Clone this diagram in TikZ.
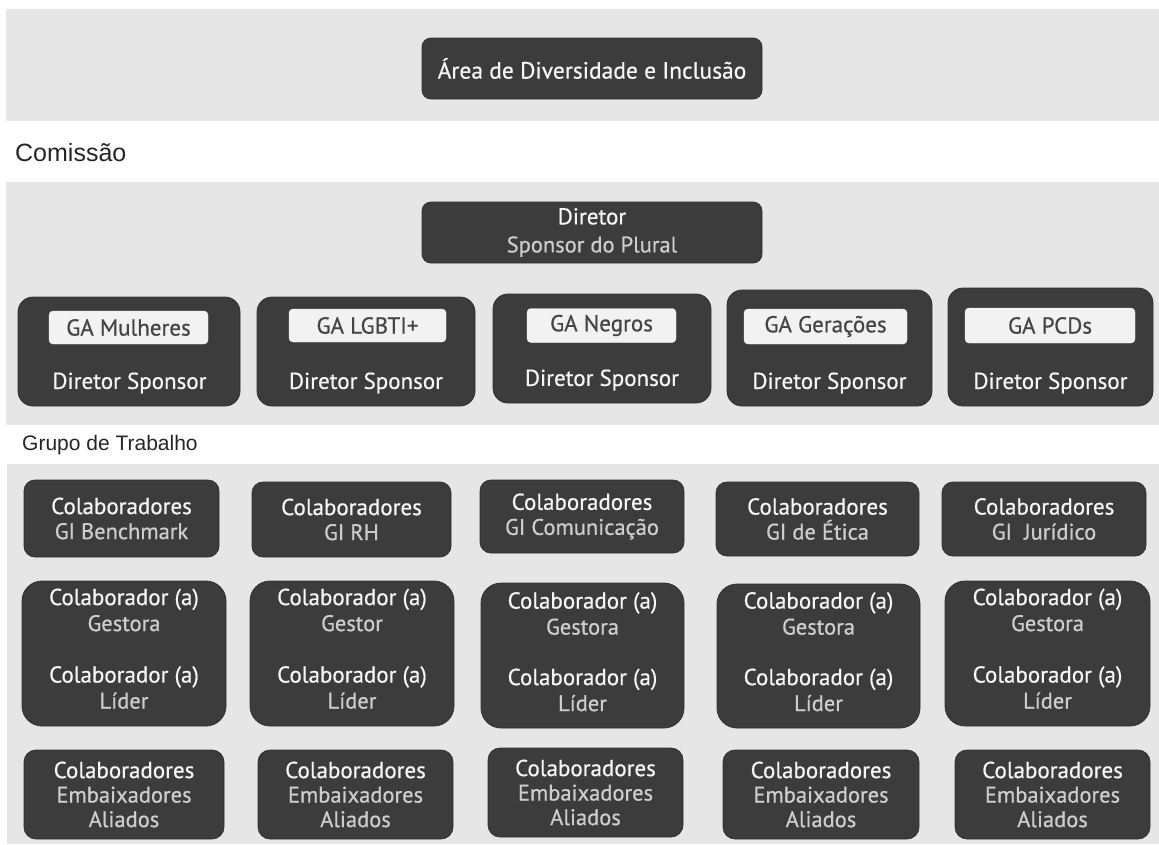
\documentclass[tikz,border=0pt]{standalone}
\usepackage{fontspec}
\newfontfamily\pts[FakeBold=0.6]{PT Sans}
\newfontfamily\lib{Liberation Sans}
\definecolor{bandc}{HTML}{E6E6E6}
\definecolor{boxc}{HTML}{3C3C3C}
\definecolor{boxe}{HTML}{333333}
\definecolor{mainc}{HTML}{F5F5F5}
\definecolor{subc}{HTML}{CDCDCD}
\definecolor{labc}{HTML}{F2F2F2}
\definecolor{labt}{HTML}{454545}
\newcommand{\subl}[1]{{\color{subc}\fontsize{22.5}{25}\selectfont #1}}
\begin{document}
\begin{tikzpicture}[x=1pt,y=-1pt,
  dbox/.style={fill=boxc, draw=boxe, line width=0.8pt, inner sep=0pt, text=mainc, align=center, font=\pts\fontsize{23}{25}\selectfont},
  gabox/.style={dbox, rounded corners=15pt},
  r1box/.style={dbox, rounded corners=11pt},
  r2box/.style={dbox, rounded corners=20pt},
  r3box/.style={dbox, rounded corners=12pt, font=\pts\fontsize{23}{24.5}\selectfont},
  topbox/.style={dbox, rounded corners=9pt},
  galab/.style={fill=labc, draw=labc, rounded corners=4pt, inner sep=0pt, text=labt, font=\pts\fontsize{23}{26}\selectfont},
  txt/.style={inner sep=0pt, text=mainc, align=center, font=\pts\fontsize{23}{26}\selectfont},
  sect/.style={inner sep=0pt, anchor=west, text=black!85}
]
\useasboundingbox (0,0) rectangle (1159,844);
\fill[white] (0,0) rectangle (1159,844);
% bands
\fill[bandc] (6,9) rectangle (1159,121);
\fill[bandc] (6,182) rectangle (1159,425);
\fill[bandc] (7,464) rectangle (1159,844);

% section labels
\node[sect, font=\lib\fontsize{25}{28}\selectfont] (comissao) at (15,153) {Comissão};
\node[sect, font=\lib\fontsize{21}{25}\selectfont] (grupo) at (22,445) {Grupo de Trabalho};

% top boxes
\node[topbox, minimum width=340, minimum height=61, font=\pts\fontsize{23.5}{26}\selectfont] (area) at (592,68.5) {Área de Diversidade e Inclusão};
\node[topbox, minimum width=340, minimum height=61, font=\pts\fontsize{23}{28}\selectfont] (diretor) at (592,232.5) {Diretor\\\subl{Sponsor do Plural}};

% GA boxes
\node[gabox, minimum width=222, minimum height=109] (ga1) at (129,351.5) {};
\node[galab, minimum width=159, minimum height=33] (ga1l) at (128.5,327.5) {GA Mulheres};
\node[txt] (ga1t) at (129.5,383) {Diretor Sponsor};

\node[gabox, minimum width=218, minimum height=109] (ga2) at (366,351.5) {};
\node[galab, minimum width=157, minimum height=33] (ga2l) at (367.5,325.5) {GA LGBTI+};
\node[txt] (ga2t) at (366,383) {Diretor Sponsor};

\node[gabox, minimum width=218, minimum height=109] (ga3) at (602,348.5) {};
\node[galab, minimum width=149, minimum height=34] (ga3l) at (601.5,325.5) {GA Negros};
\node[txt] (ga3t) at (602,380) {Diretor Sponsor};

\node[gabox, minimum width=205, minimum height=116] (ga4) at (829.5,348) {};
\node[galab, minimum width=163, minimum height=35] (ga4l) at (825.5,326.5) {GA Gerações};
\node[txt] (ga4t) at (829.5,383) {Diretor Sponsor};

\node[gabox, minimum width=205, minimum height=118] (ga5) at (1050.5,347) {};
\node[galab, minimum width=170, minimum height=35] (ga5l) at (1050,325.5) {GA PCDs};
\node[txt] (ga5t) at (1050.5,383) {Diretor Sponsor};

% row 1
\node[r1box, minimum width=195, minimum height=77] (gi1) at (121.5,518.5) {Colaboradores\\\subl{GI Benchmark}};
\node[r1box, minimum width=199, minimum height=75] (gi2) at (351.5,519.5) {Colaboradores\\\subl{GI RH}};
\node[r1box, minimum width=204, minimum height=73] (gi3) at (582,516.5) {Colaboradores\\\subl{GI Comunicação}};
\node[r1box, minimum width=203, minimum height=74] (gi4) at (817.5,519) {Colaboradores\\\subl{GI de Ética}};
\node[r1box, minimum width=204, minimum height=74] (gi5) at (1044,519) {Colaboradores\\\subl{GI\ \ Jurídico}};

% row 2
\node[r2box, minimum width=204, minimum height=145] (gl1) at (124,653.5) {};
\node[txt] (gl1a) at (124,610) {Colaborador (a)\\\subl{Gestora}};
\node[txt] (gl1b) at (124,687.5) {Colaborador (a)\\\subl{Líder}};

\node[r2box, minimum width=204, minimum height=145] (gl2) at (352,653.5) {};
\node[txt] (gl2a) at (352,610) {Colaborador (a)\\\subl{Gestor}};
\node[txt] (gl2b) at (352,687.5) {Colaborador (a)\\\subl{Líder}};

\node[r2box, minimum width=203, minimum height=145] (gl3) at (582.5,655.5) {};
\node[txt] (gl3a) at (582.5,613.5) {Colaborador (a)\\\subl{Gestora}};
\node[txt] (gl3b) at (582.5,690) {Colaborador (a)\\\subl{Líder}};

\node[r2box, minimum width=203, minimum height=144] (gl4) at (818.5,656) {};
\node[txt] (gl4a) at (818.5,613.5) {Colaborador (a)\\\subl{Gestora}};
\node[txt] (gl4b) at (818.5,690) {Colaborador (a)\\\subl{Líder}};

\node[r2box, minimum width=205, minimum height=145] (gl5) at (1047.5,653.5) {};
\node[txt] (gl5a) at (1047.5,610) {Colaborador (a)\\\subl{Gestora}};
\node[txt] (gl5b) at (1047.5,687.5) {Colaborador (a)\\\subl{Líder}};

% row 3
\node[r3box, minimum width=200, minimum height=89] (em1) at (124,794.5) {Colaboradores\\\subl{Embaixadores}\\\subl{Aliados}};
\node[r3box, minimum width=195, minimum height=89] (em2) at (355.5,794.5) {Colaboradores\\\subl{Embaixadores}\\\subl{Aliados}};
\node[r3box, minimum width=195, minimum height=89] (em3) at (585.5,792.5) {Colaboradores\\\subl{Embaixadores}\\\subl{Aliados}};
\node[r3box, minimum width=196, minimum height=89] (em4) at (821,794.5) {Colaboradores\\\subl{Embaixadores}\\\subl{Aliados}};
\node[r3box, minimum width=195, minimum height=89] (em5) at (1052.5,794.5) {Colaboradores\\\subl{Embaixadores}\\\subl{Aliados}};
\end{tikzpicture}
\end{document}
